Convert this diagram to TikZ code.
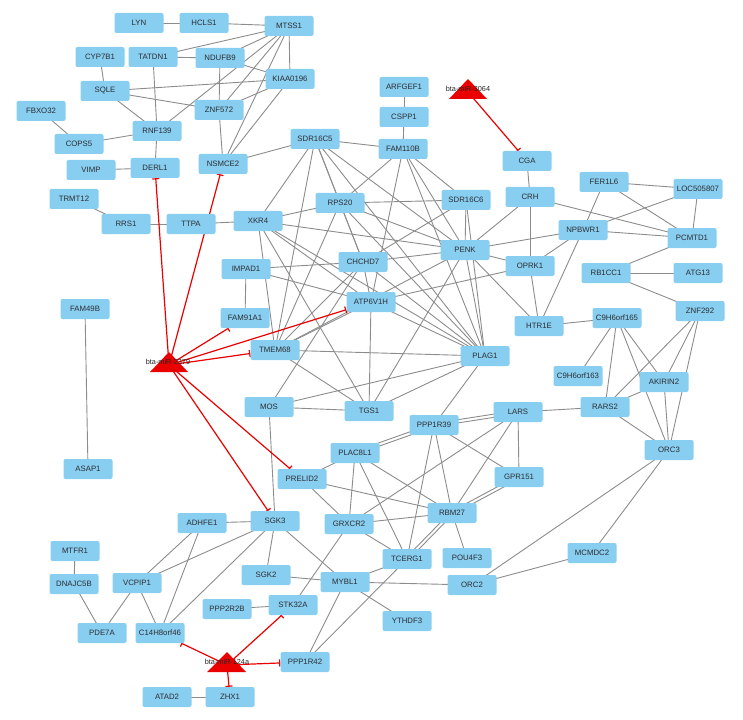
\documentclass[tikz,border=0pt]{standalone}
\usepackage{fontspec}
\setmainfont{Liberation Sans}
\usetikzlibrary{arrows.meta,calc}
\definecolor{nodeblue}{RGB}{135,206,240}
\definecolor{edgegray}{RGB}{140,140,140}
\definecolor{mirred}{RGB}{235,0,0}
\definecolor{textgray}{RGB}{45,45,50}
\pgfdeclarelayer{background}
\pgfsetlayers{background,main}
\tikzset{
  gene/.style={rectangle, rounded corners=2pt, fill=nodeblue, minimum width=49pt, minimum height=20pt, inner sep=0pt, font=\fontsize{7.8}{8}\selectfont, text=textgray},
  ppi/.style={draw=edgegray, line width=0.9pt},
  inhib/.style={draw=mirred, line width=1.2pt, -{Bar[width=7pt,line width=1.2pt]}},
  mirtri/.style={fill=mirred},
  mirlabel/.style={font=\fontsize{7.3}{8}\selectfont, inner sep=0pt, text=black!85}
}
\begin{document}
\begin{tikzpicture}[x=1pt,y=-1pt]
\useasboundingbox (0,0) rectangle (743,719);
% genes
\node[gene] (LYN) at (139,23) {LYN};
\node[gene] (HCLS1) at (204,23) {HCLS1};
\node[gene] (MTSS1) at (289,26) {MTSS1};
\node[gene] (CYP7B1) at (100,57) {CYP7B1};
\node[gene] (TATDN1) at (153,57) {TATDN1};
\node[gene] (NDUFB9) at (220,58) {NDUFB9};
\node[gene] (KIAA0196) at (290,79) {KIAA0196};
\node[gene] (SQLE) at (105,91) {SQLE};
\node[gene] (ZNF572) at (219,110) {ZNF572};
\node[gene] (FBXO32) at (41,111) {FBXO32};
\node[gene] (RNF139) at (157,131) {RNF139};
\node[gene] (COPS5) at (79,144) {COPS5};
\node[gene] (VIMP) at (91,170) {VIMP};
\node[gene] (DERL1) at (155,168) {DERL1};
\node[gene] (NSMCE2) at (223,164) {NSMCE2};
\node[gene] (SDR16C5) at (315,139) {SDR16C5};
\node[gene] (TRMT12) at (74,199) {TRMT12};
\node[gene] (RRS1) at (126,224) {RRS1};
\node[gene] (TTPA) at (191,224) {TTPA};
\node[gene] (XKR4) at (258,221) {XKR4};
\node[gene] (RPS20) at (340,203) {RPS20};
\node[gene] (ARFGEF1) at (404,87) {ARFGEF1};
\node[gene] (CSPP1) at (404,117) {CSPP1};
\node[gene] (FAM110B) at (403,149) {FAM110B};
\node[gene] (CGA) at (527,161) {CGA};
\node[gene] (FER1L6) at (604,182) {FER1L6};
\node[gene] (LOC505807) at (698,189) {LOC505807};
\node[gene] (SDR16C6) at (466,200) {SDR16C6};
\node[gene] (CRH) at (530,197) {CRH};
\node[gene] (NPBWR1) at (583,230) {NPBWR1};
\node[gene] (PCMTD1) at (692,238) {PCMTD1};
\node[gene] (PENK) at (465,250) {PENK};
\node[gene] (OPRK1) at (530,266) {OPRK1};
\node[gene] (RB1CC1) at (606,273) {RB1CC1};
\node[gene] (ATG13) at (698,273) {ATG13};
\node[gene] (CHCHD7) at (363,262) {CHCHD7};
\node[gene] (IMPAD1) at (246,269) {IMPAD1};
\node[gene] (ATP6V1H) at (371,302) {ATP6V1H};
\node[gene] (FAM91A1) at (245,318) {FAM91A1};
\node[gene] (TMEM68) at (275,350) {TMEM68};
\node[gene] (PLAG1) at (485,356) {PLAG1};
\node[gene] (MOS) at (269,407) {MOS};
\node[gene] (TGS1) at (369,411) {TGS1};
\node[gene] (FAM49B) at (85,309) {FAM49B};
\node[gene] (HTR1E) at (539,326) {HTR1E};
\node[gene] (C9H6orf165) at (617,318) {C9H6orf165};
\node[gene] (ZNF292) at (700,311) {ZNF292};
\node[gene] (C9H6orf163) at (578,376) {C9H6orf163};
\node[gene] (AKIRIN2) at (664,382) {AKIRIN2};
\node[gene] (RARS2) at (605,407) {RARS2};
\node[gene] (LARS) at (518,412) {LARS};
\node[gene] (PPP1R39) at (434,425) {PPP1R39};
\node[gene] (ORC3) at (669,450) {ORC3};
\node[gene] (GPR151) at (519,477) {GPR151};
\node[gene] (PLAC8L1) at (355,453) {PLAC8L1};
\node[gene] (PRELID2) at (302,479) {PRELID2};
\node[gene] (SGK3) at (275,521) {SGK3};
\node[gene] (GRXCR2) at (349,524) {GRXCR2};
\node[gene] (RBM27) at (452,513) {RBM27};
\node[gene] (TCERG1) at (407,559) {TCERG1};
\node[gene] (POU4F3) at (467,558) {POU4F3};
\node[gene] (SGK2) at (266,575) {SGK2};
\node[gene] (MYBL1) at (345,582) {MYBL1};
\node[gene] (ASAP1) at (88,469) {ASAP1};
\node[gene] (ADHFE1) at (202,523) {ADHFE1};
\node[gene] (MTFR1) at (75,551) {MTFR1};
\node[gene] (DNAJC5B) at (74,584) {DNAJC5B};
\node[gene] (VCPIP1) at (137,583) {VCPIP1};
\node[gene] (PPP2R2B) at (227,609) {PPP2R2B};
\node[gene] (STK32A) at (293,605) {STK32A};
\node[gene] (PDE7A) at (102,633) {PDE7A};
\node[gene] (C14H8orf46) at (160,633) {C14H8orf46};
\node[gene] (PPP1R42) at (305,662) {PPP1R42};
\node[gene] (ATAD2) at (167,697) {ATAD2};
\node[gene] (ZHX1) at (230,697) {ZHX1};
\node[gene] (MCMDC2) at (592,553) {MCMDC2};
\node[gene] (ORC2) at (472,585) {ORC2};
\node[gene] (YTHDF3) at (407,621) {YTHDF3};
% miRNA triangles
\fill[mirtri] (468,79) -- (487,99) -- (449,99) -- cycle;
\coordinate (m3064) at (468,92);
\node[mirlabel] (m3064lab) at (468,89) {bta-miR-3064};
\fill[mirtri] (169,352) -- (188,372) -- (150,372) -- cycle;
\coordinate (m2379) at (169,365);
\node[mirlabel] (m2379lab) at (168,362) {bta-miR-2379};
\fill[mirtri] (227,652) -- (246,672) -- (207,672) -- cycle;
\coordinate (m124a) at (227,665);
\node[mirlabel] (m124alab) at (227,662) {bta-miR-124a};
\begin{pgfonlayer}{background}
\foreach \a/\b in {LYN/HCLS1, HCLS1/MTSS1, MTSS1/TATDN1, MTSS1/NDUFB9, MTSS1/KIAA0196, MTSS1/RNF139, MTSS1/ZNF572, MTSS1/NSMCE2, TATDN1/NDUFB9, TATDN1/RNF139, NDUFB9/KIAA0196, NDUFB9/ZNF572, CYP7B1/SQLE, SQLE/KIAA0196, SQLE/ZNF572, SQLE/RNF139, FBXO32/COPS5, COPS5/RNF139, RNF139/DERL1, VIMP/DERL1, ZNF572/NSMCE2, ZNF572/KIAA0196, KIAA0196/NSMCE2, NSMCE2/SDR16C5, TRMT12/RRS1, RRS1/TTPA, TTPA/XKR4,
ARFGEF1/CSPP1, CSPP1/FAM110B, CGA/CRH, CRH/PENK, CRH/OPRK1, CRH/PCMTD1, FER1L6/LOC505807, FER1L6/PCMTD1, FER1L6/NPBWR1, LOC505807/NPBWR1, LOC505807/PCMTD1, NPBWR1/PCMTD1, NPBWR1/PENK, NPBWR1/OPRK1, NPBWR1/HTR1E, PENK/OPRK1, OPRK1/HTR1E, PENK/HTR1E, PCMTD1/RB1CC1, RB1CC1/ATG13, RB1CC1/ZNF292,
HTR1E/C9H6orf165, C9H6orf165/C9H6orf163, C9H6orf165/RARS2, C9H6orf165/AKIRIN2, C9H6orf165/ORC3, ZNF292/RARS2, ZNF292/AKIRIN2, ZNF292/ORC3, AKIRIN2/ORC3, AKIRIN2/RARS2, RARS2/ORC3, RARS2/LARS, ORC3/ORC2, ORC3/MCMDC2, MCMDC2/ORC2,
SDR16C5/FAM110B, SDR16C5/XKR4, SDR16C5/TMEM68, SDR16C5/RPS20, SDR16C5/CHCHD7, SDR16C5/PENK, SDR16C5/PLAG1,
FAM110B/RPS20, FAM110B/ATP6V1H, FAM110B/PENK, FAM110B/PLAG1, FAM110B/SDR16C6,
RPS20/XKR4, RPS20/SDR16C6, RPS20/PENK, RPS20/PLAG1, RPS20/TMEM68, RPS20/CHCHD7,
XKR4/PENK, XKR4/TMEM68, XKR4/TGS1, XKR4/ATP6V1H, XKR4/PLAG1,
SDR16C6/PENK, SDR16C6/PLAG1, SDR16C6/CHCHD7,
IMPAD1/FAM91A1, IMPAD1/CHCHD7, IMPAD1/ATP6V1H,
CHCHD7/PENK, CHCHD7/TMEM68, CHCHD7/MOS, CHCHD7/ATP6V1H, CHCHD7/PLAG1,
ATP6V1H/TMEM68, ATP6V1H/PLAG1, ATP6V1H/TGS1, ATP6V1H/OPRK1,
TMEM68/PLAG1, TMEM68/TGS1, TMEM68/PENK,
PENK/PLAG1, PENK/TGS1, MOS/PLAG1, MOS/TGS1, MOS/SGK3, TGS1/PLAG1, PLAG1/PPP1R39,
PPP1R39/TCERG1, PPP1R39/RBM27, PPP1R39/GPR151, LARS/GRXCR2, LARS/RBM27, LARS/GPR151,
PLAC8L1/PRELID2, PLAC8L1/GRXCR2, PLAC8L1/TCERG1, PLAC8L1/RBM27,
PRELID2/RBM27, PRELID2/GRXCR2, GRXCR2/RBM27, GRXCR2/TCERG1, GRXCR2/STK32A,
RBM27/POU4F3, TCERG1/MYBL1, TCERG1/PPP1R42, MYBL1/PPP1R42, MYBL1/ORC2, MYBL1/YTHDF3, MYBL1/SGK3, MYBL1/SGK2,
ADHFE1/SGK3, ADHFE1/VCPIP1, ADHFE1/C14H8orf46, SGK3/VCPIP1, SGK3/C14H8orf46, SGK3/SGK2, MTFR1/DNAJC5B, DNAJC5B/PDE7A, VCPIP1/PDE7A, VCPIP1/C14H8orf46, PPP2R2B/STK32A, ATAD2/ZHX1, FAM49B/ASAP1}
  \draw[ppi] (\a.center) -- (\b.center);
% doubled interactions
\foreach \a/\b in {PPP1R39/LARS, PLAC8L1/PPP1R39, GPR151/RBM27, RBM27/TCERG1}{
  \draw[ppi] ($(\a.center)!1.6pt!90:(\b.center)$) -- ($(\b.center)!1.6pt!-90:(\a.center)$);
  \draw[ppi] ($(\a.center)!1.6pt!-90:(\b.center)$) -- ($(\b.center)!1.6pt!90:(\a.center)$);
}
% inhibition edges
\draw[inhib] (m3064) -- (CGA);
\foreach \t in {DERL1, NSMCE2, FAM91A1, ATP6V1H, TMEM68, PRELID2, SGK3}
  \draw[inhib] (m2379) -- (\t);
\foreach \t in {C14H8orf46, STK32A, PPP1R42, ZHX1}
  \draw[inhib] (m124a) -- (\t);
\end{pgfonlayer}
\end{tikzpicture}
\end{document}
